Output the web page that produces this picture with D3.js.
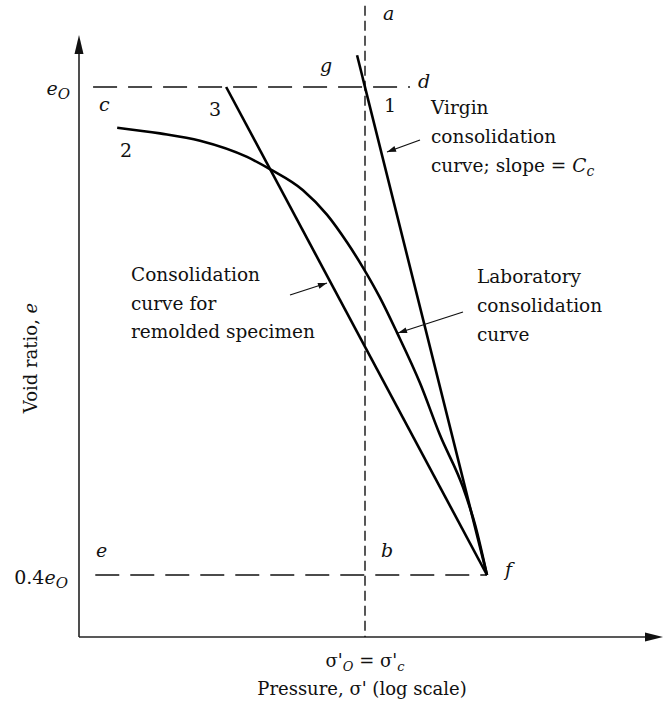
<!DOCTYPE html>
<html>
<head>
<meta charset="utf-8">
<script src="https://cdn.jsdelivr.net/npm/d3@7"></script>
<style>
  html, body { margin: 0; padding: 0; background: #fff; }
  svg { display: block; }
  text { font-family: "DejaVu Serif", "Liberation Serif", serif; fill: #111; }
  .it { font-style: italic; }
</style>
</head>
<body>
<div id="chart"></div>
<script>
// ---- Data (pressure on log scale, void ratio e as fraction of e0) ----
const labPressure   = [13.6, 19.2, 26.5, 38.7, 46.5, 60.7, 73.6, 86.5, 98.4, 112.8, 129.4, 155.7, 182.9, 220.0, 242.5, 267.0];
const labVoid       = [0.950, 0.943, 0.934, 0.914, 0.899, 0.873, 0.843, 0.809, 0.778, 0.741, 0.698, 0.636, 0.572, 0.508, 0.462, 0.400];
const virginPressure = [93.8, 267.0];
const virginVoid     = [1.039, 0.400];
const remoldPressure = [32.7, 267.0];
const remoldVoid     = [1.000, 0.400];
const e0 = 1.0;
const e04 = 0.4;
const sigmaC = 100;
const e0LinePressure = [11.2, 143.6];
const e04LinePressure = [11.4, 267.0];
const verticalVoid = [1.10, 0.3238];

const W = 664, H = 704;
const svg = d3.select("#chart").append("svg").attr("width", W).attr("height", H);

const x = d3.scaleLog().domain([10, 100]).range([79, 365]);
const y = d3.scaleLinear().domain([0.4, 1.0]).range([575, 87]);

const xAxisY = 637, yAxisX = 79;

// axes
svg.append("line").attr("x1", yAxisX).attr("x2", yAxisX).attr("y1", xAxisY).attr("y2", 50)
  .attr("stroke", "#222").attr("stroke-width", 1.6);
svg.append("path").attr("d", `M${yAxisX},35 L${yAxisX-4.5},54 L${yAxisX+4.5},54 Z`).attr("fill", "#111");
svg.append("line").attr("x1", yAxisX).attr("x2", 650).attr("y1", xAxisY).attr("y2", xAxisY)
  .attr("stroke", "#222").attr("stroke-width", 1.6);
svg.append("path").attr("d", `M663,${xAxisY} L645,${xAxisY-4.5} L645,${xAxisY+4.5} Z`).attr("fill", "#111");

// dashed reference lines
const dashH = "24,11";
svg.append("line")
  .attr("x1", x(e0LinePressure[0])).attr("x2", x(e0LinePressure[1]))
  .attr("y1", y(e0)).attr("y2", y(e0))
  .attr("stroke", "#111").attr("stroke-width", 1.4).attr("stroke-dasharray", dashH);
svg.append("line")
  .attr("x1", x(e04LinePressure[0])).attr("x2", x(e04LinePressure[1]))
  .attr("y1", y(e04)).attr("y2", y(e04))
  .attr("stroke", "#111").attr("stroke-width", 1.4).attr("stroke-dasharray", dashH);
svg.append("line")
  .attr("x1", x(sigmaC)).attr("x2", x(sigmaC))
  .attr("y1", y(verticalVoid[0])).attr("y2", y(verticalVoid[1]))
  .attr("stroke", "#111").attr("stroke-width", 1.4).attr("stroke-dasharray", "10,5");

// curves
const lab = labPressure.map((p, i) => [p, labVoid[i]]);
const smooth = d3.line().x(d => x(d[0])).y(d => y(d[1])).curve(d3.curveMonotoneX);
svg.append("path").datum(lab)
  .attr("d", smooth)
  .attr("fill", "none").attr("stroke", "#000").attr("stroke-width", 2.6);
const straight = d3.line().x(d => x(d[0])).y(d => y(d[1]));
svg.append("path").datum(virginPressure.map((p, i) => [p, virginVoid[i]]))
  .attr("d", straight).attr("fill", "none").attr("stroke", "#000").attr("stroke-width", 2.6);
svg.append("path").datum(remoldPressure.map((p, i) => [p, remoldVoid[i]]))
  .attr("d", straight).attr("fill", "none").attr("stroke", "#000").attr("stroke-width", 2.6);

// annotation arrows
function arrow(x1, y1, x2, y2) {
  svg.append("line").attr("x1", x1).attr("y1", y1).attr("x2", x2).attr("y2", y2)
    .attr("stroke", "#111").attr("stroke-width", 1.3);
  const a = Math.atan2(y2 - y1, x2 - x1), L = 9, w = 3;
  const bx = x2 - L * Math.cos(a), by = y2 - L * Math.sin(a);
  const px = -Math.sin(a) * w, py = Math.cos(a) * w;
  svg.append("path").attr("d", `M${x2},${y2} L${bx+px},${by+py} L${bx-px},${by-py} Z`).attr("fill", "#111");
}
arrow(420, 140, 387, 152);
arrow(290, 295, 327, 283);
arrow(463, 312, 398, 333);

// point labels
const fs = 19;
function lab1(t, xx, yy, italic) {
  svg.append("text").attr("x", xx).attr("y", yy).attr("font-size", fs)
    .attr("class", italic ? "it" : null).text(t);
}
lab1("a", 383, 20, true);
lab1("g", 320, 72, true);
lab1("d", 418, 88, true);
lab1("1", 384, 112, false);
lab1("c", 99, 111, true);
lab1("3", 209, 116, false);
lab1("2", 120, 157, false);
lab1("e", 96, 557, true);
lab1("b", 381, 557, true);
lab1("f", 505, 576, true);

// y-axis value labels
const t1 = svg.append("text").attr("x", 70).attr("y", y(e0) + 8).attr("text-anchor", "end").attr("font-size", fs);
t1.append("tspan").attr("class", "it").text("e");
t1.append("tspan").attr("class", "it").attr("dy", 4).attr("font-size", 15).text("O");
const t2 = svg.append("text").attr("x", 68).attr("y", y(e04) + 9).attr("text-anchor", "end").attr("font-size", fs);
t2.append("tspan").text("0.4");
t2.append("tspan").attr("class", "it").text("e");
t2.append("tspan").attr("class", "it").attr("dy", 4).attr("font-size", 15).text("O");

// block annotations
function block(lines, xx, yy, dy) {
  lines.forEach((l, i) => {
    const t = svg.append("text").attr("x", xx).attr("y", yy + i * dy).attr("font-size", 18.5);
    l.forEach(seg => {
      const s = t.append("tspan").text(seg.t);
      if (seg.it) s.attr("class", "it");
      if (seg.dy) s.attr("dy", seg.dy);
      if (seg.fs) s.attr("font-size", seg.fs);
    });
  });
}
block([[{t: "Virgin"}], [{t: "consolidation"}],
       [{t: "curve; slope = "}, {t: "C", it: true}, {t: "c", it: true, dy: 4, fs: 14}]], 431, 114, 29);
block([[{t: "Consolidation"}], [{t: "curve for"}], [{t: "remolded specimen"}]], 131, 281, 28.5);
block([[{t: "Laboratory"}], [{t: "consolidation"}], [{t: "curve"}]], 477, 283, 29);

// axis titles
const xl = svg.append("text").attr("x", x(sigmaC)).attr("y", 667).attr("text-anchor", "middle").attr("font-size", 18);
xl.append("tspan").text("σ'");
xl.append("tspan").attr("class", "it").attr("dy", 4).attr("font-size", 13).text("O");
xl.append("tspan").attr("dy", -4).text(" = σ'");
xl.append("tspan").attr("class", "it").attr("dy", 4).attr("font-size", 13).text("c");
svg.append("text").attr("x", 362).attr("y", 695).attr("text-anchor", "middle").attr("font-size", 18)
  .text("Pressure, σ' (log scale)");
const yl = svg.append("text").attr("transform", "translate(37,358) rotate(-90)")
  .attr("text-anchor", "middle").attr("font-size", 18);
yl.append("tspan").text("Void ratio, ");
yl.append("tspan").attr("class", "it").text("e");
</script>
</body>
</html>
